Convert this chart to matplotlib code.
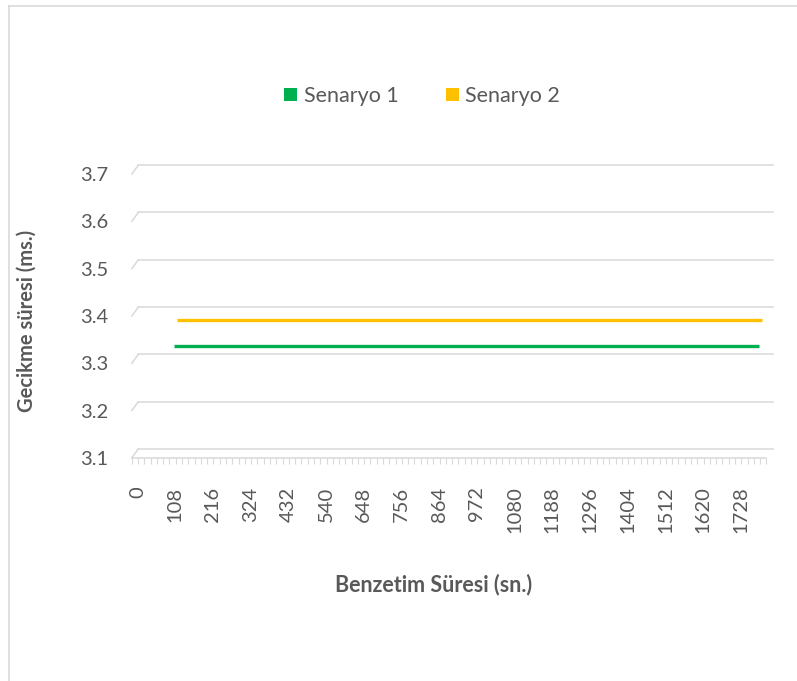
import numpy as np
import matplotlib
matplotlib.use("Agg")
import matplotlib.pyplot as plt
import matplotlib.transforms as mtransforms
from matplotlib.patches import Patch, ConnectionPatch
from matplotlib.lines import Line2D

plt.rcParams['font.family'] = ['Lato', 'DejaVu Sans']

# simulation time steps (s) on the category axis, every 6th one labelled
zaman = list(range(0, 1801, 18))
etiket_zaman = zaman[::6]

# delay (ms) per scenario, recorded from 108 s to 1782 s
senaryo_1 = [np.nan] * 6 + [3.332] * 94 + [np.nan]
senaryo_2 = [np.nan] * 6 + [3.378] * 94 + [np.nan]
y_ticks = [3.1, 3.2, 3.3, 3.4, 3.5, 3.6, 3.7]

TEXT = '#595959'
GRID = '#d9d9d9'
YESIL = '#00B050'
SARI = '#FFC000'

fig = plt.figure(figsize=(7.97, 6.81), dpi=100)
ax = fig.add_axes([0.16524, 0.32746, 0.79636, 0.41674])
x = np.arange(len(zaman))
ax.set_xlim(-0.5, len(zaman) - 0.5)
ax.set_ylim(3.1, 3.7)


# 3D look: shift back into the chart depth (fraction 0..1 of the floor depth)
def derinlik(f):
    return ax.transData + mtransforms.ScaledTranslation(f * 0.066, f * 0.09, fig.dpi_scale_trans)


arka = derinlik(1.0)
for v in y_ticks:
    ax.plot([-0.5, len(zaman) - 0.5], [v, v], transform=arka, color=GRID,
            lw=1.1, clip_on=False, zorder=1)
    cp = ConnectionPatch((-0.5, v), (-0.5, v), coordsA=ax.transData, coordsB=arka,
                         color=GRID, lw=1.1, zorder=1)
    ax.add_artist(cp)

# series ribbons, yellow one sits deeper
ax.plot(x, senaryo_2, color=SARI, lw=2.4, transform=derinlik(0.75),
        solid_capstyle='butt', zorder=3)
ax.plot(x, senaryo_1, color=YESIL, lw=2.4, transform=derinlik(0.25),
        solid_capstyle='butt', zorder=4)

for side in ['left', 'right', 'top']:
    ax.spines[side].set_visible(False)
ax.spines['bottom'].set_color(GRID)
ax.spines['bottom'].set_linewidth(1.1)

ax.set_xticks(x[::6])
ax.set_xticklabels([str(t) for t in etiket_zaman], rotation=90)
ax.set_xticks(np.arange(-0.5, len(zaman)), minor=True)
ax.tick_params(axis='x', which='major', length=0, pad=20.5, labelsize=14.5, labelcolor=TEXT)
ax.tick_params(axis='x', which='minor', length=4.5, width=0.8, color=GRID, direction='out')
for lab in ax.get_xticklabels():
    lab.set_transform(lab.get_transform() + mtransforms.ScaledTranslation(0.027, 0, fig.dpi_scale_trans))

ax.set_yticks(y_ticks)
ax.set_yticklabels([f'{v:.1f}' for v in y_ticks])
ax.tick_params(axis='y', length=0, pad=16.8, labelsize=14.5, labelcolor=TEXT)

fig.text(433.5 / 797, 1 - 585 / 681, 'Benzetim Süresi (sn.)', ha='center', va='center',
         fontsize=15.5, fontweight='bold', color=TEXT)
fig.text(27 / 797, 1 - 321 / 681, 'Gecikme süresi (ms.)', ha='center', va='center',
         rotation=90, fontsize=14.5, fontweight='bold', color=TEXT)

handles = [Patch(facecolor=YESIL), Patch(facecolor=SARI)]
fig.legend(handles, ['Senaryo 1', 'Senaryo 2'], loc='center',
           bbox_to_anchor=(422 / 797, 1 - 96 / 681), ncol=2, frameon=False,
           fontsize=15.5, handlelength=0.62, handleheight=0.6, handletextpad=0.3,
           columnspacing=2.2, labelcolor=TEXT)

# chart area border
fig.add_artist(Line2D([9 / 797, 9 / 797], [0, 1 - 6 / 681], transform=fig.transFigure,
                      color=GRID, lw=1.2))
fig.add_artist(Line2D([9 / 797, 1], [1 - 6 / 681, 1 - 6 / 681], transform=fig.transFigure,
                      color=GRID, lw=1.2))

fig.savefig('out.png', dpi=100)
